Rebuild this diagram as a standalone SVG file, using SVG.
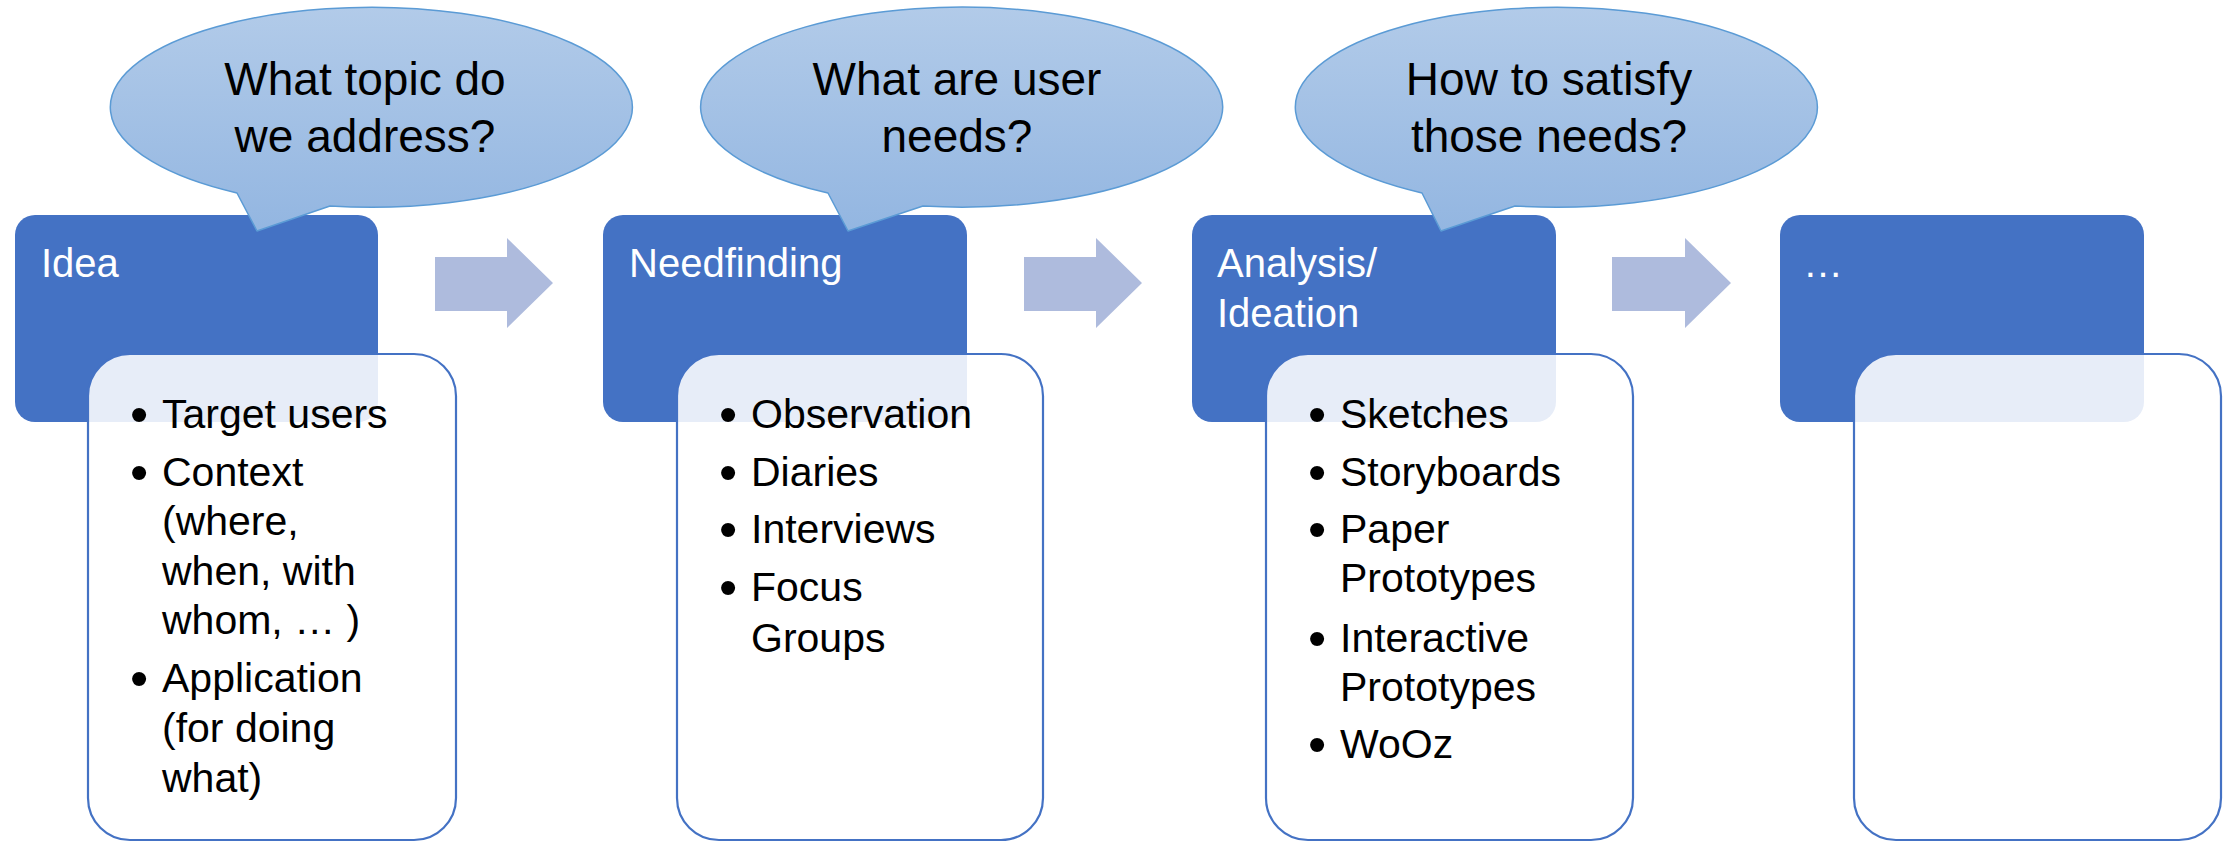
<svg xmlns="http://www.w3.org/2000/svg" width="2233" height="842" viewBox="0 0 2233 842">
  <defs>
    <linearGradient id="calloutFill" x1="0" y1="0" x2="0" y2="1">
      <stop offset="0" stop-color="#B2CBE9"/>
      <stop offset="1" stop-color="#93B6E1"/>
    </linearGradient>
    <style>
      .phase { fill: #4472C4; }
      .detail { fill: #FFFFFF; fill-opacity: 0.875; stroke: #4472C4; stroke-width: 2.2; }
      .callout { fill: url(#calloutFill); stroke: #5B9BD5; stroke-width: 1.5; stroke-linejoin: round; }
      .arrow { fill: #AEBBDD; }
      .label { font-family: "Liberation Sans", Arial, sans-serif; font-size: 40px; fill: #FFFFFF; }
      .question { font-family: "Liberation Sans", Arial, sans-serif; font-size: 46px; fill: #000000; text-anchor: middle; }
      .item { font-family: "Liberation Sans", Arial, sans-serif; font-size: 41px; fill: #000000; }
      .bullet { font-family: "Liberation Sans", Arial, sans-serif; font-size: 52px; fill: #000000; }
    </style>
  </defs>
  <rect width="2233" height="842" fill="#FFFFFF"/>

  <g id="connectors">
    <polygon class="arrow" points="435,257 507,257 507,238 553,283 507,328 507,311 435,311"/>
    <polygon class="arrow" points="1024,257 1096,257 1096,238 1142,283 1096,328 1096,311 1024,311"/>
    <polygon class="arrow" points="1612,257 1685,257 1685,238 1731,283 1685,328 1685,311 1612,311"/>
  </g>

  <g id="node-idea">
    <rect class="phase" x="15" y="215" width="363" height="207" rx="20"/>
    <text class="label" x="41" y="277">Idea</text>
    <path class="callout" d="M237,193 L257,231 L330,206 A261,100 0 1 0 237,193 Z"/>
    <text class="question" x="365" y="95">What topic do</text>
    <text class="question" x="365" y="152">we address?</text>
    <rect class="detail" x="88" y="354" width="368" height="486" rx="42"/>
    <text class="bullet" x="130" y="432">•</text>
    <text class="item" x="162" y="428">Target users</text>
    <text class="bullet" x="130" y="490">•</text>
    <text class="item" x="162" y="486">Context</text>
    <text class="item" x="162" y="535">(where,</text>
    <text class="item" x="162" y="585">when, with</text>
    <text class="item" x="162" y="634">whom, … )</text>
    <text class="bullet" x="130" y="696">•</text>
    <text class="item" x="162" y="692">Application</text>
    <text class="item" x="162" y="742">(for doing</text>
    <text class="item" x="162" y="792">what)</text>
  </g>

  <g id="node-needfinding">
    <rect class="phase" x="603" y="215" width="364" height="207" rx="20"/>
    <text class="label" x="629" y="277">Needfinding</text>
    <path class="callout" d="M828,193 L848,231 L923,206 A261,100 0 1 0 828,193 Z"/>
    <text class="question" x="957" y="95">What are user</text>
    <text class="question" x="957" y="152">needs?</text>
    <rect class="detail" x="677" y="354" width="366" height="486" rx="42"/>
    <text class="bullet" x="719" y="432">•</text>
    <text class="item" x="751" y="428">Observation</text>
    <text class="bullet" x="719" y="490">•</text>
    <text class="item" x="751" y="486">Diaries</text>
    <text class="bullet" x="719" y="547">•</text>
    <text class="item" x="751" y="543">Interviews</text>
    <text class="bullet" x="719" y="605">•</text>
    <text class="item" x="751" y="601">Focus</text>
    <text class="item" x="751" y="652">Groups</text>
  </g>

  <g id="node-analysis">
    <rect class="phase" x="1192" y="215" width="364" height="207" rx="20"/>
    <text class="label" x="1217" y="277">Analysis/</text>
    <text class="label" x="1217" y="327">Ideation</text>
    <path class="callout" d="M1422,193 L1441,231 L1515,206 A261,100 0 1 0 1422,193 Z"/>
    <text class="question" x="1549" y="95">How to satisfy</text>
    <text class="question" x="1549" y="152">those needs?</text>
    <rect class="detail" x="1266" y="354" width="367" height="486" rx="42"/>
    <text class="bullet" x="1308" y="432">•</text>
    <text class="item" x="1340" y="428">Sketches</text>
    <text class="bullet" x="1308" y="490">•</text>
    <text class="item" x="1340" y="486">Storyboards</text>
    <text class="bullet" x="1308" y="547">•</text>
    <text class="item" x="1340" y="543">Paper</text>
    <text class="item" x="1340" y="592">Prototypes</text>
    <text class="bullet" x="1308" y="656">•</text>
    <text class="item" x="1340" y="652">Interactive</text>
    <text class="item" x="1340" y="701">Prototypes</text>
    <text class="bullet" x="1308" y="762">•</text>
    <text class="item" x="1340" y="758">WoOz</text>
  </g>

  <g id="node-more">
    <rect class="phase" x="1780" y="215" width="364" height="207" rx="20"/>
    <text class="label" x="1803" y="277">…</text>
    <rect class="detail" x="1854" y="354" width="367" height="486" rx="42"/>
  </g>
</svg>
